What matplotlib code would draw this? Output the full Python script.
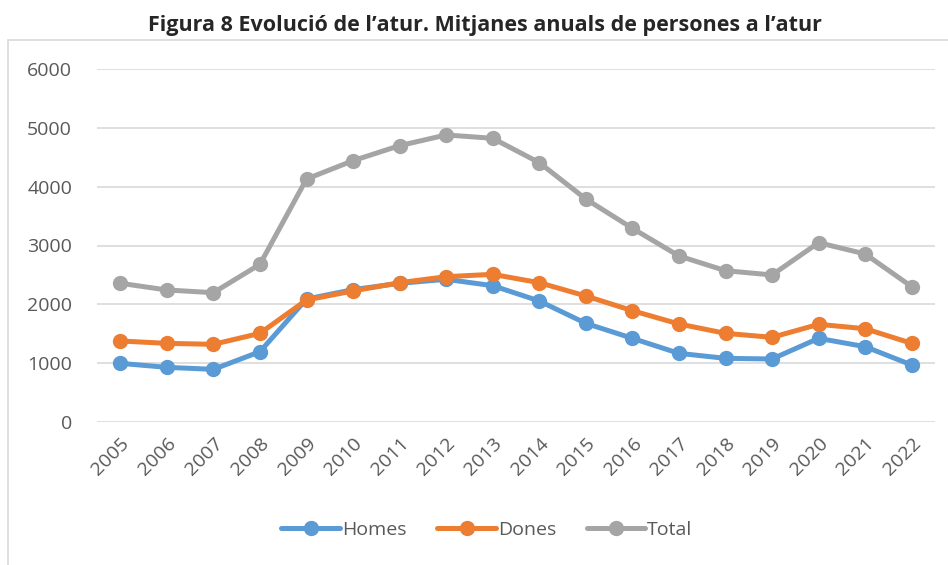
import matplotlib
matplotlib.use("Agg")
from matplotlib import pyplot as plt
from matplotlib.patches import Rectangle

plt.rcParams['font.family'] = ['Open Sans', 'DejaVu Sans']

# Data
years = [str(y) for y in range(2005, 2023)]
homes = [997, 929, 895, 1195, 2090, 2250, 2357, 2425, 2317, 2057,
         1677, 1422, 1167, 1082, 1071, 1422, 1280, 969]
dones = [1377, 1337, 1320, 1507, 2074, 2227, 2368, 2470, 2510, 2368,
         2142, 1892, 1666, 1507, 1439, 1660, 1586, 1337]
total = [2358, 2244, 2198, 2680, 4130, 4442, 4697, 4879, 4822, 4408,
         3790, 3292, 2822, 2572, 2499, 3048, 2856, 2300]

series = [("Homes", homes, "#5B9BD5"),
          ("Dones", dones, "#ED7D31"),
          ("Total", total, "#A5A5A5")]

W, H = 948, 565
fig = plt.figure(figsize=(W / 100, H / 100), dpi=100)

# chart area border (left and top visible)
fig.patches.append(Rectangle((8 / W, -0.1), 1.2, (H - 40) / H + 0.1,
                             transform=fig.transFigure, fill=False,
                             edgecolor="#D9D9D9", linewidth=1.2))

ax = fig.add_axes([97 / W, 1 - 422 / H, (935 - 97) / W, (422 - 69) / H])

x = list(range(len(years)))
for name, vals, col in series:
    ax.plot(x, vals, color=col, linewidth=3.6, marker="o", markersize=10,
            label=name, solid_capstyle="round")

ax.set_xlim(-0.5, len(years) - 0.5)
ax.set_ylim(0, 6000)
ax.set_yticks(range(0, 6001, 1000))
ax.set_xticks(x)
ax.set_xticklabels(years, rotation=45, ha="right", rotation_mode="anchor")
ax.grid(axis="y", color="#D9D9D9", linewidth=1.2)
ax.set_axisbelow(True)
for s in ax.spines.values():
    s.set_visible(False)
ax.tick_params(axis="both", length=0, labelsize=14, labelcolor="#595959")
ax.tick_params(axis="y", pad=18)
ax.tick_params(axis="x", pad=9)

fig.text(485 / W, 1 - 26 / H, "Figura 8 Evolució de l\u2019atur. Mitjanes anuals de persones a l\u2019atur",
         ha="center", va="center", fontsize=15.5, fontweight="bold", color="#262626")

leg = fig.legend(loc="center", bbox_to_anchor=(487 / W, 1 - 530 / H), ncol=3,
                 frameon=False, fontsize=14, handlelength=3.0,
                 handletextpad=0.1, columnspacing=1.6, labelcolor="#595959")

fig.savefig("out.png", dpi=100)
